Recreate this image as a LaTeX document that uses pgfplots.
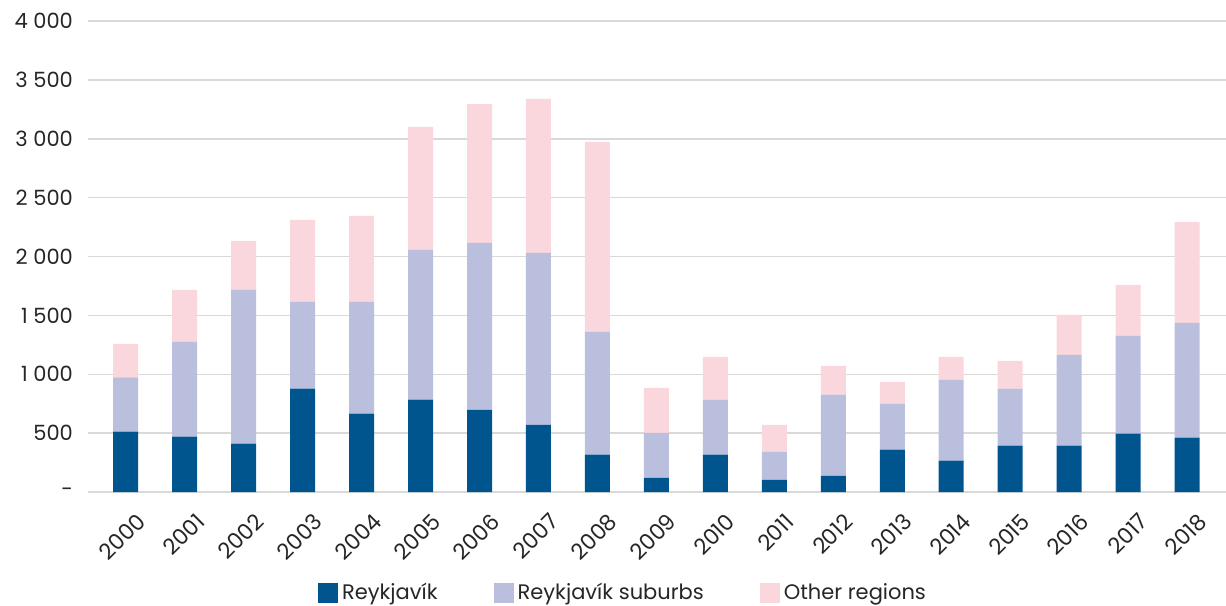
\documentclass[border=0pt]{standalone}
\usepackage{pgfplots}
\pgfplotsset{compat=1.18}
\usepackage{pgfplotstable}
\usepackage{fontspec}
\setmainfont{Poppins}
\definecolor{cDark}{HTML}{00558F}
\definecolor{cLav}{HTML}{BBBFDE}
\definecolor{cPink}{HTML}{FAD7DC}
\definecolor{cGrid}{HTML}{D9D9D9}
\definecolor{cText}{HTML}{262626}
\pgfplotsset{sqleg/.style={legend image code/.code={\fill[##1,draw=none] (0pt,-5pt) rectangle (10pt,5pt);}}}
\pgfplotstableread{
x year rey sub oth
0 2000 512 461 286
1 2001 470 806 441
2 2002 410 1307 416
3 2003 877 738 696
4 2004 665 950 730
5 2005 784 1273 1044
6 2006 698 1418 1179
7 2007 571 1460 1307
8 2008 317 1043 1613
9 2009 121 382 382
10 2010 317 466 365
11 2011 104 238 229
12 2012 138 688 246
13 2013 359 390 187
14 2014 266 687 195
15 2015 393 484 237
16 2016 393 772 340
17 2017 495 832 432
18 2018 461 976 857
}\data
\begin{document}
\begin{tikzpicture}
\begin{axis}[
  scale only axis,
  width=569pt, height=235.5pt,
  ybar stacked,
  bar width=12.5pt,
  xmin=-0.64, xmax=18.66,
  ymin=0, ymax=4000,
  ytick={0,500,...,4000},
  yticklabels={-,500,1 000,1 500,2 000,2 500,3 000,3 500,4 000},
  xtick=data,
  xticklabels={2000,2001,2002,2003,2004,2005,2006,2007,2008,2009,2010,2011,2012,2013,2014,2015,2016,2017,2018},
  ticklabel style={font=\fontsize{10.5}{12}\selectfont, text=cText},
  xticklabel style={rotate=45, anchor=north east, xshift=0pt, yshift=-7pt, font=\fontsize{11}{12}\selectfont},
  yticklabel style={xshift=-4pt},
  major tick length=0pt,
  axis line style={draw=none},
  ymajorgrids,
  grid style={cGrid, line width=0.75pt},
  legend style={at={(0.471,-0.2144)}, anchor=center, draw=none, fill=none,
    legend columns=3, font=\fontsize{10.5}{12}\selectfont, text=cText,
    /tikz/every even column/.append style={column sep=26pt}},
  legend cell align=left,
]
\addplot[fill=cDark, draw=none, sqleg] table[x=x, y=rey] {\data};
\addlegendentry{Reykjavík}
\addplot[fill=cLav, draw=none, sqleg] table[x=x, y=sub] {\data};
\addlegendentry{Reykjavík suburbs}
\addplot[fill=cPink, draw=none, sqleg] table[x=x, y=oth] {\data};
\addlegendentry{Other regions}
\end{axis}
\pgfresetboundingbox
\path (current axis.south west) ++(-44pt,246pt) coordinate (tl);
\path (current axis.south west) ++(569pt,-56.5pt) coordinate (br);
\path (tl) rectangle (br);
\end{tikzpicture}
\end{document}
